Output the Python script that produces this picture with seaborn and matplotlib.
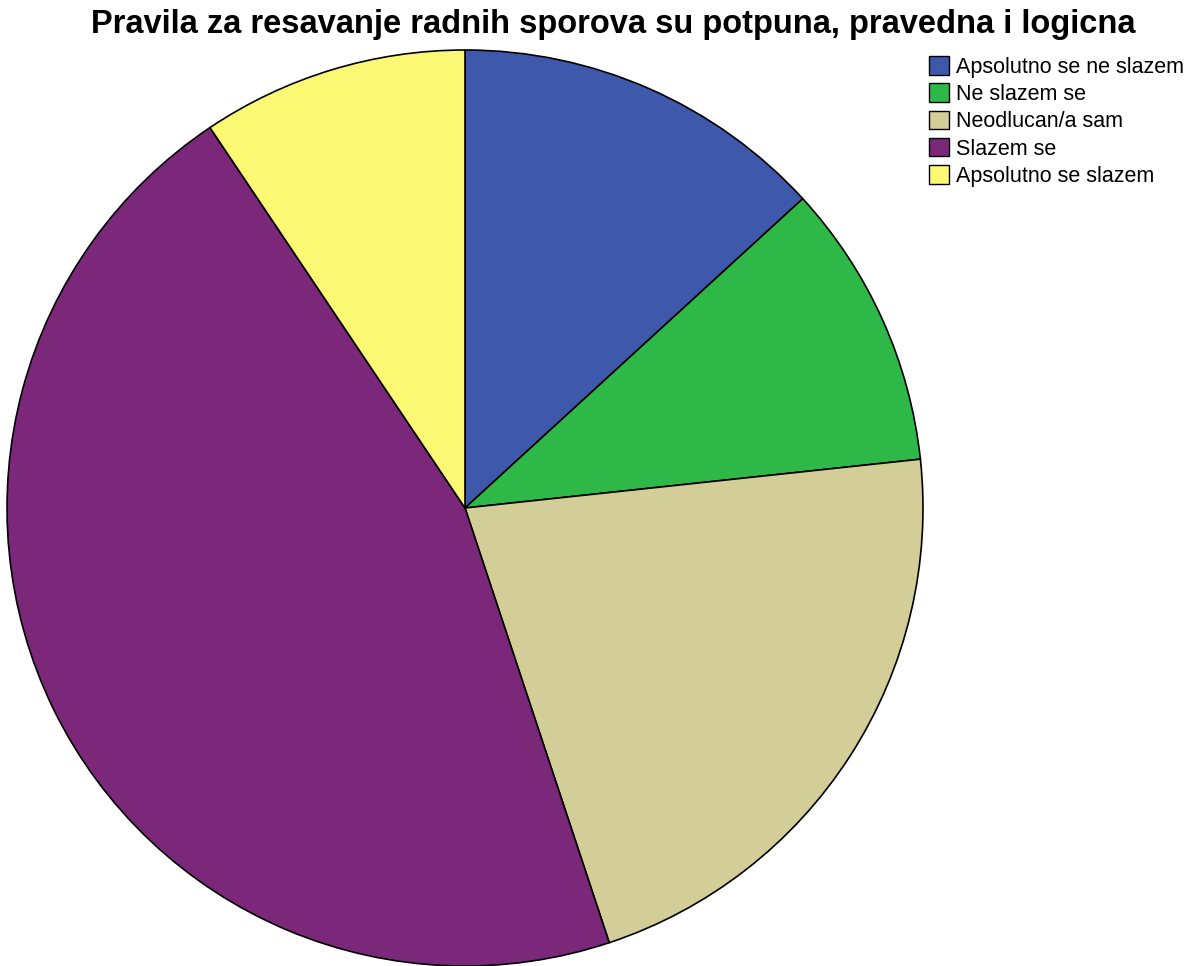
import matplotlib
matplotlib.use("Agg")
import matplotlib.pyplot as plt
import seaborn as sns
from matplotlib.patches import Patch

categories = ["Apsolutno se ne slazem", "Ne slazem se", "Neodlucan/a sam",
              "Slazem se", "Apsolutno se slazem"]
percent = [13.2, 10.1, 21.6, 45.7, 9.4]
colors_hex = ["#3E58AC", "#2EB848", "#D3CE97", "#7B287B", "#FBF873"]
title = "Pravila za resavanje radnih sporova su potpuna, pravedna i logicna"

sns.set_theme(style="white")
plt.rcParams['font.family'] = ['Liberation Sans', 'DejaVu Sans']
palette = sns.color_palette(colors_hex)

fig = plt.figure(figsize=(11.96, 9.66), dpi=100)
fig.patch.set_facecolor("white")
ax = fig.add_axes([7/1196, 0.0, 916/1196, 916/966])
ax.pie(percent, colors=palette, startangle=90, counterclock=False,
       wedgeprops=dict(edgecolor="black", linewidth=1.2))
ax.set_aspect("equal")
ax.set_xlim(-1, 1)
ax.set_ylim(-1, 1)
ax.axis("off")

fig.text(613/1196, 1 - 25/966, title, ha="center", va="center",
         fontsize=23.5, fontweight="bold", color="black")

handles = [Patch(facecolor=c, edgecolor="black", linewidth=1.0) for c in palette]
fig.legend(handles, categories, loc="upper left",
           bbox_to_anchor=(929/1196, 1 - 56/966), frameon=False,
           fontsize=15.5, handlelength=0.95, handleheight=0.95,
           handletextpad=0.3, labelspacing=0.26, borderpad=0, borderaxespad=0,
           labelcolor="black")

fig.savefig("out.png", dpi=100, facecolor="white")
